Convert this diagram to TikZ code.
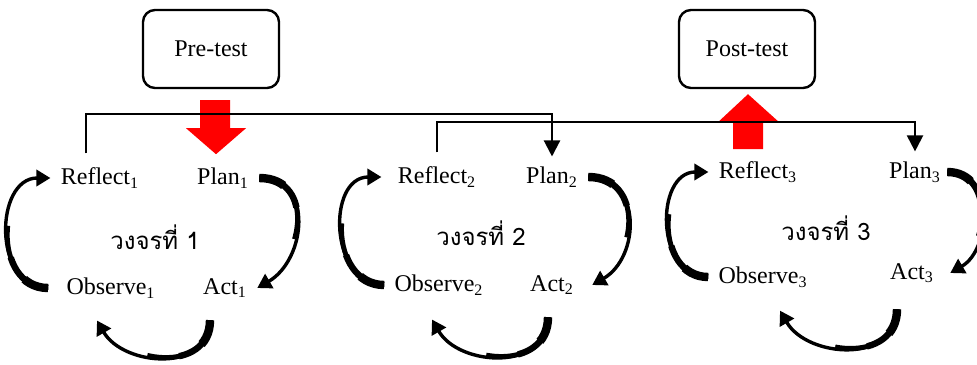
\documentclass[tikz,border=0pt]{standalone}
\usepackage{fontspec}
\setmainfont{Liberation Serif}
\newfontfamily\thaifont[Script=Thai]{Loma}
\usetikzlibrary{arrows.meta}

\tikzset{
  testbox/.style={draw, line width=1.2pt, rounded corners=6pt, minimum width=68pt, minimum height=39pt, font=\fontsize{12}{14}\selectfont},
  stage/.style={inner sep=5pt, font=\fontsize{12}{14}\selectfont},
  cyclename/.style={font=\thaifont\fontsize{12}{14}\selectfont},
  link/.style={line width=1.1pt, -{Triangle[width=8pt,length=8pt]}},
  turn/.style={line width=1.7pt, -{Triangle[width=8pt,length=7pt]}},
  turnlow/.style={line width=2.4pt, dash pattern=on 42pt off 500pt},
  turnmid/.style={line width=3.2pt, dash pattern=on 26pt off 500pt},
  turnbase/.style={line width=4.2pt, dash pattern=on 13pt off 500pt},
}

% thick-to-thin curved arrow between two stages
\newcommand{\turnarrow}[3]{%
  \draw[turnbase] (#1) to[#3] (#2);
  \draw[turnmid] (#1) to[#3] (#2);
  \draw[turnlow] (#1) to[#3] (#2);
  \draw[turn] (#1) to[#3] (#2);}

\begin{document}
\begin{tikzpicture}[x=0.5pt,y=-0.5pt]
\useasboundingbox (0,0) rectangle (977,364);

% tests
\node[testbox] (pretest) at (211,49) {Pre-test};
\node[testbox] (posttest) at (747,49) {Post-test};

% cycle 1
\node[stage] (reflect1) at (100,178) {Reflect\textsubscript{1}};
\node[stage] (plan1) at (223,178) {Plan\textsubscript{1}};
\node[cyclename] (cycle1) at (155,237) {วงจรที่ 1};
\node[stage] (observe1) at (111,288) {Observe\textsubscript{1}};
\node[stage] (act1) at (225,288) {Act\textsubscript{1}};

% cycle 2
\node[stage] (reflect2) at (437,177) {Reflect\textsubscript{2}};
\node[stage] (plan2) at (552,177) {Plan\textsubscript{2}};
\node[cyclename] (cycle2) at (481,233) {วงจรที่ 2};
\node[stage] (observe2) at (439,285) {Observe\textsubscript{2}};
\node[stage] (act2) at (552,285) {Act\textsubscript{2}};

% cycle 3
\node[stage] (reflect3) at (758,172) {Reflect\textsubscript{3}};
\node[stage] (plan3) at (915,172) {Plan\textsubscript{3}};
\node[cyclename] (cycle3) at (826,228) {วงจรที่ 3};
\node[stage] (observe3) at (763,277) {Observe\textsubscript{3}};
\node[stage] (act3) at (912,273) {Act\textsubscript{3}};

% red arrows
\fill[red] (pretest.south) ++(-11,11) -- ++(30,0) -- ++(0,28) -- ++(16,0)
  -- ++(-30,26) -- ++(-30,-26) -- ++(14,0) -- cycle;
\fill[red] (posttest.south) ++(1,5) -- ++(30,27) -- ++(-15,0) -- ++(0,28)
  -- ++(-30,0) -- ++(0,-28) -- ++(-14,0) -- cycle;

% from one cycle to the next
\draw[link, shorten <=2pt] (reflect1.north -| 86,0) |- (plan2.north |- 0,114) -- (plan2.north);
\draw[link, shorten <=2pt] (reflect2.north) |- (plan3.north |- 0,122) -- (plan3.north);

% cycle 1 arrows
\turnarrow{plan1.east}{act1.east}{out=0,in=30,looseness=1.3}
\turnarrow{[xshift=-7.5pt,yshift=-6pt]act1.south}{[xshift=-7pt,yshift=-6pt]observe1.south}{out=-90,in=-60,looseness=1.2}
\turnarrow{[xshift=-4pt]observe1.west}{reflect1.west}{out=180,in=180,looseness=1.3}

% cycle 2 arrows
\turnarrow{plan2.east}{[xshift=4pt]act2.east}{out=0,in=30,looseness=1.3}
\turnarrow{[xshift=-2pt,yshift=-6pt]act2.south}{[xshift=-3.5pt,yshift=-7pt]observe2.south}{out=-90,in=-60,looseness=1.2}
\turnarrow{observe2.west}{[xshift=-3pt]reflect2.west}{out=180,in=180,looseness=1.3}

% cycle 3 arrows
\turnarrow{[xshift=-2pt]plan3.east}{[xshift=3pt]act3.east}{out=0,in=30,looseness=1.2}
\turnarrow{[xshift=-7.5pt,yshift=-8pt]act3.south}{[xshift=8.5pt,yshift=-6.5pt]observe3.south}{out=-90,in=-60,looseness=1.2}
\turnarrow{observe3.west}{reflect3.west}{out=180,in=180,looseness=1.3}

\end{tikzpicture}
\end{document}
